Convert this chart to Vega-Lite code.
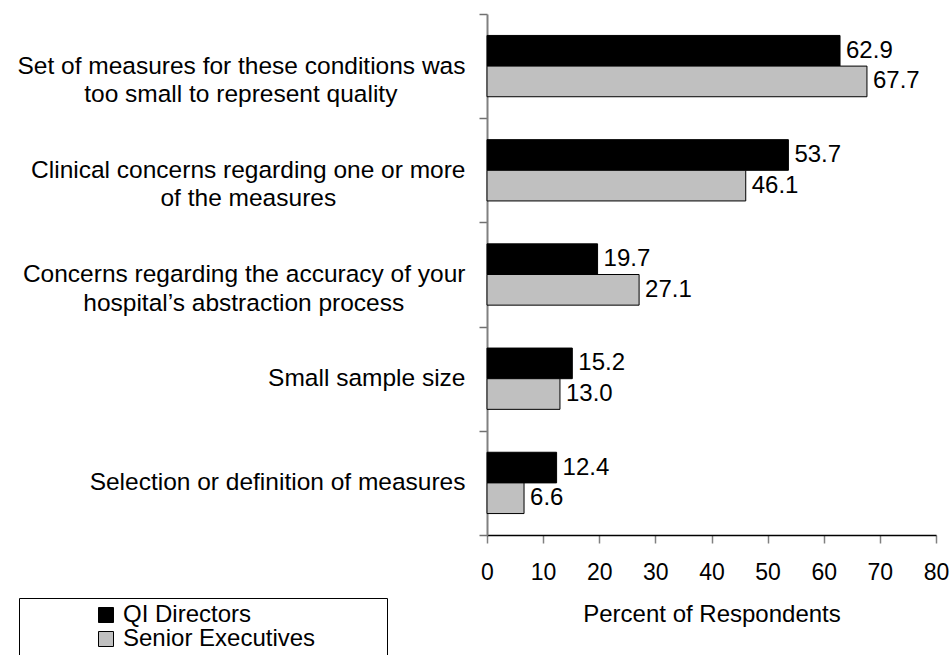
{
  "$schema": "https://vega.github.io/schema/vega-lite/v6.json",
  "width": 449,
  "height": 521,
  "autosize": {"type": "none"},
  "padding": {"left": 487, "top": 14, "right": 15, "bottom": 120},
  "background": "white",
  "config": {"font": "Liberation Sans", "view": {"stroke": null}},
  "data": {
    "values": [
      {"reason": "Set of measures for these conditions was|too small to represent quality\u00a0\u00a0\u00a0\u00a0\u00a0\u00a0\u00a0\u00a0\u00a0\u00a0\u200b", "group": "QI Directors", "value": 62.9},
      {"reason": "Set of measures for these conditions was|too small to represent quality\u00a0\u00a0\u00a0\u00a0\u00a0\u00a0\u00a0\u00a0\u00a0\u00a0\u200b", "group": "Senior Executives", "value": 67.7},
      {"reason": "Clinical concerns regarding one or more|of the measures\u00a0\u00a0\u00a0\u00a0\u00a0\u00a0\u00a0\u00a0\u00a0\u00a0\u00a0\u00a0\u00a0\u00a0\u00a0\u00a0\u00a0\u00a0\u00a0\u200b", "group": "QI Directors", "value": 53.7},
      {"reason": "Clinical concerns regarding one or more|of the measures\u00a0\u00a0\u00a0\u00a0\u00a0\u00a0\u00a0\u00a0\u00a0\u00a0\u00a0\u00a0\u00a0\u00a0\u00a0\u00a0\u00a0\u00a0\u00a0\u200b", "group": "Senior Executives", "value": 46.1},
      {"reason": "Concerns regarding the accuracy of your|hospital\u2019s abstraction process\u00a0\u00a0\u00a0\u00a0\u00a0\u00a0\u00a0\u00a0\u00a0\u200b", "group": "QI Directors", "value": 19.7},
      {"reason": "Concerns regarding the accuracy of your|hospital\u2019s abstraction process\u00a0\u00a0\u00a0\u00a0\u00a0\u00a0\u00a0\u00a0\u00a0\u200b", "group": "Senior Executives", "value": 27.1},
      {"reason": "Small sample size", "group": "QI Directors", "value": 15.2},
      {"reason": "Small sample size", "group": "Senior Executives", "value": 13.0},
      {"reason": "Selection or definition of measures", "group": "QI Directors", "value": 12.4},
      {"reason": "Selection or definition of measures", "group": "Senior Executives", "value": 6.6}
    ]
  },
  "encoding": {
    "y": {
      "field": "reason",
      "type": "nominal",
      "sort": null,
      "scale": {"paddingInner": 0, "paddingOuter": 0},
      "axis": {
        "title": null,
        "labelExpr": "split(datum.label, '|')",
        "labelFontSize": 24.5,
        "labelColor": "black",
        "labelLineHeight": 28.5,
        "labelAlign": "right",
        "labelBaseline": "middle",
        "labelPadding": 14,
        "labelLimit": 600,
        "labelOverlap": false,
        "tickBand": "extent",
        "tickSize": 8,
        "tickColor": "#707070",
        "tickWidth": 1.5,
        "domainColor": "#808080",
        "domainWidth": 2
      }
    },
    "x": {
      "field": "value",
      "type": "quantitative",
      "scale": {"domain": [0, 80], "nice": false},
      "axis": {
        "title": "Percent of Respondents",
        "titleFontSize": 24,
        "titleFontWeight": "normal",
        "titleColor": "black",
        "titlePadding": 18,
        "values": [0, 10, 20, 30, 40, 50, 60, 70, 80],
        "labelFontSize": 23,
        "labelColor": "black",
        "labelPadding": 18,
        "labelFlush": false,
        "labelOverlap": false,
        "tickSize": 8,
        "tickColor": "#808080",
        "tickWidth": 1.5,
        "domainColor": "black",
        "domainWidth": 1.5,
        "grid": false
      }
    },
    "yOffset": {
      "field": "group",
      "type": "nominal",
      "sort": ["QI Directors", "Senior Executives"],
      "scale": {"paddingInner": 0, "paddingOuter": 0.7}
    }
  },
  "layer": [
    {
      "mark": {"type": "bar", "stroke": "black", "strokeWidth": 1},
      "encoding": {
        "color": {
          "field": "group",
          "type": "nominal",
          "scale": {"domain": ["QI Directors", "Senior Executives"], "range": ["#000000", "#c0c0c0"]},
          "legend": {
            "orient": "none",
            "legendX": -468,
            "legendY": 584,
            "title": null,
            "strokeColor": "black",
            "fillColor": "white",
            "padding": 5,
            "symbolType": "square",
            "symbolSize": 225,
            "symbolStrokeColor": "black",
            "symbolStrokeWidth": 1,
            "symbolOffset": 70,
            "labelOffset": 5,
            "labelFontSize": 24,
            "labelColor": "black",
            "labelLimit": 600,
            "rowPadding": 0,
            "labelExpr": "datum.label + '\u00a0\u00a0\u00a0\u00a0\u00a0\u00a0\u00a0\u00a0\u00a0\u00a0\u200b'"
          }
        }
      }
    },
    {
      "mark": {"type": "text", "align": "left", "baseline": "middle", "dx": 6, "fontSize": 24, "color": "black"},
      "encoding": {
        "text": {"field": "value", "type": "quantitative", "format": ".1f"}
      }
    }
  ]
}
